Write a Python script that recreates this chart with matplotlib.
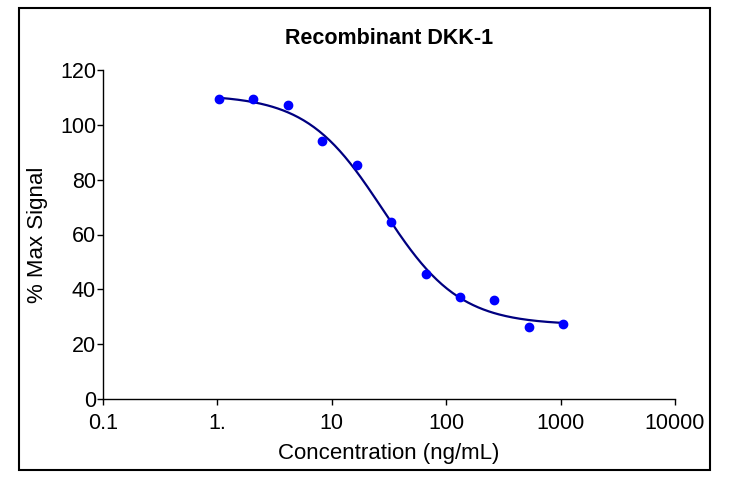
import numpy as np
import matplotlib
matplotlib.use("Agg")
import matplotlib.pyplot as plt
from matplotlib.patches import Rectangle
from matplotlib.ticker import FixedLocator, FixedFormatter, NullLocator

plt.rcParams['font.family'] = ['Liberation Sans', 'DejaVu Sans']

# data
conc = [1.03, 2.05, 4.1, 8.2, 16.6, 32.9, 66.0, 132, 262, 528, 1050]
signal = [109.4, 109.5, 107.2, 94.1, 85.3, 64.6, 45.6, 37.2, 36.1, 26.3, 27.4]

# 4-parameter logistic fit, parameters estimated from the drawn curve
fit_top = 111.0
fit_bottom = 27.0
fit_ec50 = 28.0
fit_hill = 1.3

xticks = [0.1, 1, 10, 100, 1000, 10000]
xtick_labels = ["0.1", "1.", "10", "100", "1000", "10000"]
yticks = [0, 20, 40, 60, 80, 100, 120]

fig = plt.figure(figsize=(7.30, 4.78), dpi=100)
ax = fig.add_axes([103/730, 1-399/478, (675-103)/730, (399-70)/478])

xfit = np.logspace(np.log10(conc[0]), np.log10(conc[-1]), 200)
yfit = fit_bottom + (fit_top - fit_bottom) / (1 + (xfit / fit_ec50) ** fit_hill)
ax.plot(xfit, yfit, color='#000080', lw=1.6, zorder=2)
ax.plot(conc, signal, 'o', color='#0000ff', ms=6, zorder=3)

ax.set_xscale('log')
ax.set_xlim(0.1, 10000)
ax.set_ylim(0, 120)
ax.xaxis.set_major_locator(FixedLocator(xticks))
ax.xaxis.set_major_formatter(FixedFormatter(xtick_labels))
ax.xaxis.set_minor_locator(NullLocator())
ax.set_yticks(yticks)

for s in ['top', 'right']:
    ax.spines[s].set_visible(False)
for s in ['left', 'bottom']:
    ax.spines[s].set_linewidth(1.0)
ax.tick_params(direction='out', length=4, width=1, labelsize=15.5)
ax.tick_params(axis='x', pad=6)
ax.tick_params(axis='y', pad=1)

ax.set_xlabel('Concentration (ng/mL)', fontsize=16, va='center')
ax.set_ylabel('% Max Signal', fontsize=16, va='center')
ax.xaxis.set_label_coords(0.5, (399-453)/329)
ax.yaxis.set_label_coords((38-103)/572, (399-235)/329)
fig.text(389/730, 1-38/478, 'Recombinant DKK-1', fontsize=15.5,
         fontweight='bold', ha='center', va='center')

# outer frame
fig.patches.append(Rectangle((19/730, 1-470/478), (710-19)/730, (470-8)/478,
                             transform=fig.transFigure, fill=False,
                             edgecolor='black', lw=1.5))

fig.savefig('out.png', dpi=100)
